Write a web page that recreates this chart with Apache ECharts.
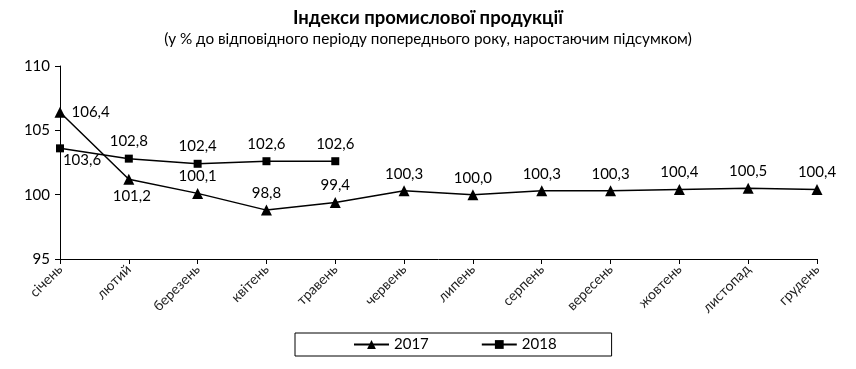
<!DOCTYPE html>
<html><head><meta charset="utf-8">
<script src="https://cdn.jsdelivr.net/npm/echarts@6/dist/echarts.min.js"></script>
<style>html,body{margin:0;padding:0;background:#fff}#c{width:856px;height:369px}</style>
</head><body><div id="c"></div>
<script>
const categories = ['січень','лютий','березень','квітень','травень','червень','липень','серпень','вересень','жовтень','листопад','грудень'];
const values2017 = [106.4,101.2,100.1,98.8,99.4,100.3,100.0,100.3,100.3,100.4,100.5,100.4];
const values2018 = [103.6,102.8,102.4,102.6,102.6];
const labelPos2017 = ['right','bottom','top','top','top','top','top','top','top','top','top','top'];
const labelPos2018 = ['bottom','top','top','top','top'];
const yTicks = [95,100,105,110];
const FONT = 'Lato, "Liberation Sans", sans-serif';
const fmt = v => v.toFixed(1).replace('.', ',');
const chart = echarts.init(document.getElementById('c'));
const mk = (vals, pos, off) => vals.map((v,i)=>({value:v,label:{position:pos[i], offset: off[i]||[0,0]}}));
chart.setOption({
  animation:false,
  title:{text:'Індекси промислової продукції', subtext:'(у % до відповідного періоду попереднього року, наростаючим підсумком)',
    left:'center', top:4, itemGap:4,
    textStyle:{fontFamily:FONT,fontSize:18.5,fontWeight:'bold',color:'#000'},
    subtextStyle:{fontFamily:FONT,fontSize:15.3,color:'#000'}},
  legend:{bottom:13, left:295, padding:[4,55,4,58], borderColor:'#000', borderWidth:1, itemGap:52,
    itemWidth:35, itemHeight:11,
    textStyle:{fontFamily:FONT,fontSize:15,color:'#000'},
    data:['2017','2018']},
  grid:{left:60,right:39,top:66,bottom:110},
  xAxis:{type:'category',data:categories,boundaryGap:false,
    axisLine:{lineStyle:{color:'#000'}},axisTick:{show:true,length:5,interval:0,lineStyle:{color:'#000'}},
    axisLabel:{rotate:45,interval:0,fontFamily:FONT,fontSize:14,color:'#222',margin:8}},
  yAxis:{type:'value',min:95,max:110,interval:5,
    axisLine:{show:true,lineStyle:{color:'#000'}},axisTick:{show:true,length:5,lineStyle:{color:'#000'}},
    splitLine:{show:false},
    axisLabel:{fontFamily:FONT,fontSize:15,color:'#000',margin:10}},
  series:[
    {name:'2017',type:'line',data:mk(values2017,labelPos2017,[[2,0],[3,0]]),symbol:'triangle',symbolSize:11,
      lineStyle:{color:'#000',width:1.5},itemStyle:{color:'#000'},
      label:{show:true,formatter:p=>fmt(p.value),fontFamily:FONT,fontSize:15,color:'#000',distance:4}},
    {name:'2018',type:'line',data:mk(values2018,labelPos2018,[[22,-6]]),symbol:'rect',symbolSize:8,
      lineStyle:{color:'#000',width:1.5},itemStyle:{color:'#000'},
      label:{show:true,formatter:p=>fmt(p.value),fontFamily:FONT,fontSize:15,color:'#000',distance:6}}
  ]
});
</script></body></html>
